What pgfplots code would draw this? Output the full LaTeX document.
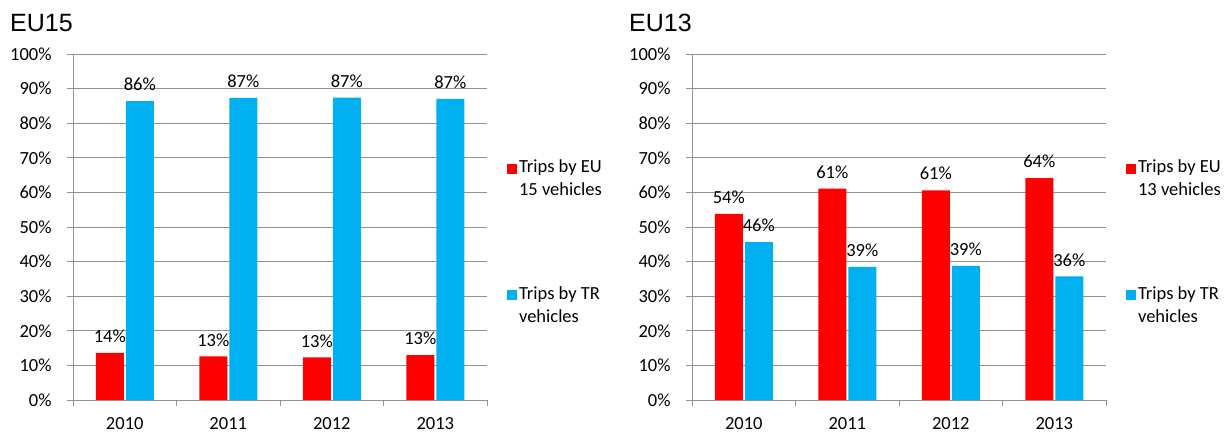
\documentclass[border=0pt]{standalone}
\usepackage{pgfplots}
\pgfplotsset{compat=1.18}
\usepackage{fontspec}
\setmainfont{Carlito}
\newfontfamily\titlefont{Liberation Sans}
\definecolor{cred}{HTML}{FF0000}
\definecolor{cblue}{HTML}{00B0F0}
\definecolor{cgrid}{HTML}{939393}
\newcommand{\lblfont}{\fontsize{18.5bp}{23bp}\selectfont}
\pgfplotsset{
 mybar/.style={
  scale only axis, width=414bp, height=346bp,
  ybar=2bp, bar width=28bp,
  xmin=-0.5, xmax=3.5, ymin=0, ymax=100,
  xtick={-0.5,0.5,1.5,2.5,3.5}, xticklabels={},
  extra x ticks={0,1,2,3}, extra x tick labels={2010,2011,2012,2013},
  extra x tick style={major tick length=0pt, grid=none},
  ytick={0,10,...,100},
  yticklabels={0\%,10\%,20\%,30\%,40\%,50\%,60\%,70\%,80\%,90\%,100\%},
  axis x line*=bottom, axis y line*=left,
  axis line style={cgrid, line width=0.8bp},
  ymajorgrids, grid style={cgrid, line width=0.8bp},
  tick style={cgrid, line width=0.8bp}, major tick length=6bp, tick align=outside,
  xticklabel style={font=\fontsize{18.5bp}{23bp}\selectfont, text=black, yshift=-14bp},
  yticklabel style={font=\fontsize{18.5bp}{23bp}\selectfont, text=black, xshift=-12bp},
  nodes near coords, point meta=explicit symbolic,
  nodes near coords style={font=\lblfont, text=black, anchor=south, inner sep=0pt, yshift=10bp},
  legend style={draw=none, fill=none, font=\lblfont, cells={align=left, anchor=west}, inner sep=0pt, row sep=85bp},
  legend cell align=left,
  legend image code/.code={\fill[##1] (0bp,5bp) rectangle (10bp,15bp);},
 }
}
\begin{document}
\begin{tikzpicture}
\useasboundingbox (0,0) rectangle (1230bp,434bp);
\node[anchor=base west, inner sep=0pt, font=\titlefont\fontsize{25bp}{30bp}\selectfont] at (10bp,402bp) {EU15};
\node[anchor=base west, inner sep=0pt, font=\titlefont\fontsize{25bp}{30bp}\selectfont] at (629bp,402bp) {EU13};
\begin{axis}[mybar, at={(73bp,34bp)}, anchor=south west,
  legend style={at={(1.048,0.70)}, anchor=north west}]
\addplot[fill=cred, draw=none] coordinates {(0,13.6) [14\%] (1,12.6) [13\%] (2,12.3) [13\%] (3,13.0) [13\%]};
\addlegendentry{Trips by EU\\15 vehicles}
\addplot[fill=cblue, draw=none] coordinates {(0,86.4) [86\%] (1,87.3) [87\%] (2,87.4) [87\%] (3,87.0) [87\%]};
\addlegendentry{Trips by TR\\vehicles}
\end{axis}
\begin{axis}[mybar, at={(692bp,34bp)}, anchor=south west,
  legend style={at={(1.048,0.70)}, anchor=north west}]
\addplot[fill=cred, draw=none] coordinates {(0,53.8) [54\%] (1,61.1) [61\%] (2,60.6) [61\%] (3,64.1) [64\%]};
\addlegendentry{Trips by EU\\13 vehicles}
\addplot[fill=cblue, draw=none] coordinates {(0,45.6) [46\%] (1,38.5) [39\%] (2,38.8) [39\%] (3,35.7) [36\%]};
\addlegendentry{Trips by TR\\vehicles}
\end{axis}
\end{tikzpicture}
\end{document}
